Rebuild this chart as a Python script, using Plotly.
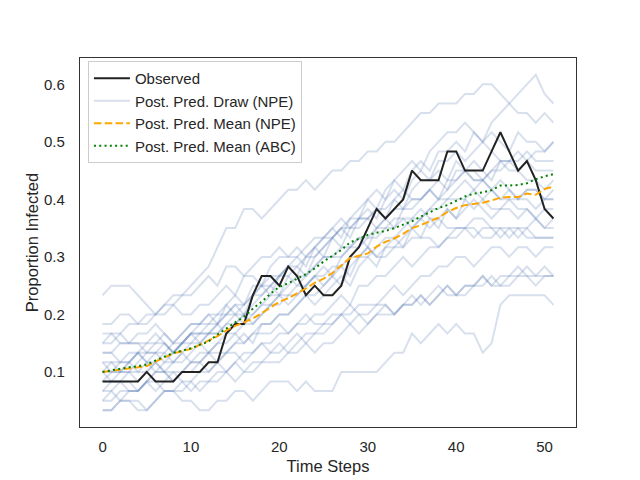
import plotly.graph_objects as go

N_POP = 60  # counts are out of 60

time_steps = list(range(52))

observed_counts = [5, 5, 5, 5, 5, 6, 5, 5, 5, 6,
                   6, 6, 7, 7, 10, 11, 11, 14, 16, 16,
                   15, 17, 16, 14, 15, 14, 14, 15, 18, 19,
                   21, 23, 22, 23, 24, 27, 26, 26, 26, 29,
                   29, 27, 27, 27, 29, 31, 29, 27, 28, 26,
                   23, 22]

draw_a = [2,2,3,3,2,2,3,4,4,3, 3,2,2,3,3,4,4,3,4,5, 5,5,4,5,4,4,4,6,6,6, 6,6,7,8,8,10,9,10,11,10, 11,10,10,8,9,13,14,14,14,14, 14,13]
draw_b = [4,5,5,4,4,5,6,6,5,6, 7,7,6,7,8,8,7,8,9,8, 8,9,10,9,10,10,11,12,11,12, 11,12,13,12,13,13,14,13,14,15, 14,14,15,15,16,15,15,16,16,15, 16,16]
draw_c = [14,15,15,15,14,13,12,12,13,14, 14,15,16,15,17,17,16,17,18,18, 19,18,18,19,20,20,21,22,21,21, 22,23,22,24,25,24,24,25,26,25, 27,27,26,26,27,28,28,27,28,29, 29,30]
draw_d = [9,9,10,11,11,12,12,13,14,14, 15,16,17,19,21,21,23,23,22,23, 24,25,25,26,25,26,27,27,28,28, 29,29,30,30,31,32,33,33,34,34, 34,35,35,36,36,35,34,33,33,32, 33,32]
draw_e = [8,8,7,7,8,9,9,10,9,10, 11,11,12,11,13,14,13,15,15,16, 16,17,18,17,19,20,21,20,22,23, 24,25,24,26,27,28,27,29,30,31, 31,32,31,30,32,33,34,35,36,37, 35,34]
draw_f = [11,11,12,12,11,11,12,13,13,12, 12,13,13,14,15,14,16,16,15,17, 18,18,19,18,19,20,20,21,21,22, 22,21,22,23,23,24,24,25,24,25, 26,27,27,26,27,27,28,28,29,28, 28,28]
draw_g = [10,10,9,9,10,10,11,10,9,10, 11,11,12,12,12,13,13,14,14,15, 16,16,15,16,17,18,18,19,19,20, 20,21,21,22,22,21,22,23,23,24, 24,24,25,24,23,23,24,24,25,25, 24,24]
draw_h = [9,10,10,9,9,9,10,9,8,9, 10,10,10,11,12,12,11,12,13,13, 14,14,14,15,16,16,17,17,18,18, 19,18,18,19,19,20,20,20,19,20, 21,21,22,22,21,21,20,21,21,22, 21,21]
draw_i = [8,8,9,9,9,8,8,8,9,9, 9,10,10,10,11,11,12,12,13,14, 14,15,16,16,17,18,18,18,19,19, 20,20,21,21,22,22,23,22,22,21, 21,21,21,20,20,21,21,21,20,20, 20,20]
draw_j = [7,7,7,8,8,7,7,6,6,6, 7,7,8,8,8,9,9,10,10,10, 11,10,11,12,11,11,12,12,13,12, 12,13,13,12,13,14,13,14,15,14, 14,15,15,16,15,15,16,16,17,16, 16,16]
draw_k = [7,6,6,7,8,7,8,9,8,9, 10,9,10,11,10,11,12,11,12,13, 14,13,14,15,16,15,16,17,16,18, 19,18,19,20,19,21,22,21,22,23, 22,23,24,23,22,23,23,22,23,22, 21,22]
draw_l = [6,6,7,7,8,8,9,9,8,9, 10,11,11,12,13,12,13,14,15,14, 16,17,16,18,18,19,20,19,21,22, 22,23,23,24,23,25,26,26,27,26, 28,27,28,27,26,28,27,27,26,26, 25,26]
draw_m = [6,7,6,6,7,8,8,7,8,9, 10,10,11,11,12,13,12,14,15,15, 16,17,17,18,19,18,20,21,22,22, 24,23,25,26,25,27,28,27,29,29, 30,29,31,30,31,30,29,31,30,30, 29,30]
draw_n = [6,5,5,6,6,7,6,7,7,8, 7,8,8,9,9,10,9,10,11,11, 12,12,13,14,13,14,15,16,15,17, 18,17,19,19,20,21,20,22,21,23, 22,24,23,24,25,24,24,23,23,22, 23,23]
draw_o = [5,5,6,6,5,6,7,6,7,7, 8,9,8,9,10,10,11,11,12,13, 13,14,15,15,16,17,16,18,19,20, 19,21,22,21,23,23,24,25,24,26, 26,27,26,26,25,26,25,24,25,25, 24,25]
draw_p = [5,6,6,7,6,6,7,8,7,8, 9,9,10,10,11,12,12,13,14,15, 14,16,17,16,18,19,20,21,20,22, 23,22,24,25,24,26,27,26,28,28, 29,28,29,30,29,28,28,29,28,27, 27,27]
draw_q = [4,4,5,5,4,5,6,6,5,6, 6,7,8,7,8,9,10,9,11,11, 12,12,13,14,14,15,16,15,17,18, 18,19,20,20,21,22,22,23,24,24, 25,26,25,26,25,24,25,24,24,23, 24,24]
draw_r = [3,4,3,4,4,5,4,5,6,5, 5,6,6,7,6,7,8,8,9,9, 10,10,11,11,12,12,13,14,13,15, 15,16,16,17,18,17,18,19,19,20, 20,21,20,21,21,20,21,20,21,20, 20,20]
draw_s = [3,3,4,4,4,5,5,4,4,5, 4,5,5,6,6,7,6,7,7,8, 9,8,9,10,10,11,11,12,12,13, 13,13,14,15,14,15,16,16,17,17, 18,18,17,18,19,19,18,19,19,18, 19,19]
draw_t = [2,2,3,3,3,2,3,4,4,4, 5,4,5,5,6,5,6,6,7,7, 7,8,8,9,8,9,9,10,11,10, 11,12,12,12,13,13,14,13,14,15, 14,15,15,16,15,16,16,17,16,16, 17,16]

draws = [draw_a, draw_b, draw_c, draw_d, draw_e, draw_f, draw_g, draw_h, draw_i, draw_j,
         draw_k, draw_l, draw_m, draw_n, draw_o, draw_p, draw_q, draw_r, draw_s, draw_t]

npe_mean = [0.100, 0.102, 0.104, 0.106, 0.108, 0.110, 0.118, 0.125, 0.132, 0.136,
            0.140, 0.147, 0.154, 0.162, 0.172, 0.180, 0.186, 0.193, 0.202, 0.212,
            0.222, 0.228, 0.236, 0.245, 0.255, 0.262, 0.272, 0.285, 0.298, 0.302,
            0.306, 0.318, 0.326, 0.332, 0.340, 0.350, 0.355, 0.362, 0.368, 0.378,
            0.385, 0.390, 0.392, 0.394, 0.398, 0.403, 0.404, 0.404, 0.410, 0.408,
            0.418, 0.422]

abc_mean = [0.100, 0.103, 0.106, 0.108, 0.110, 0.113, 0.120, 0.127, 0.133, 0.137,
            0.141, 0.147, 0.153, 0.165, 0.176, 0.186, 0.196, 0.210, 0.222, 0.236,
            0.248, 0.254, 0.262, 0.270, 0.280, 0.292, 0.302, 0.312, 0.325, 0.332,
            0.338, 0.342, 0.345, 0.350, 0.356, 0.362, 0.370, 0.378, 0.385, 0.390,
            0.398, 0.405, 0.410, 0.412, 0.416, 0.424, 0.424, 0.425, 0.428, 0.435,
            0.440, 0.444]

y_ticks = [0.1, 0.2, 0.3, 0.4, 0.5, 0.6]
x_ticks = [0, 10, 20, 30, 40, 50]

FONT = "Liberation Sans, Arial, sans-serif"
TXT = "#262626"

fig = go.Figure()

for i, d in enumerate(draws):
    fig.add_trace(go.Scatter(
        x=time_steps[:len(d)], y=[c / N_POP for c in d], mode="lines",
        line=dict(color="rgba(76,114,176,0.22)", width=2),
        name="Post. Pred. Draw (NPE)", legendgroup="draw",
        showlegend=(i == 0), legendrank=2, hoverinfo="skip"))

fig.add_trace(go.Scatter(
    x=time_steps, y=[c / N_POP for c in observed_counts], mode="lines",
    line=dict(color="#222222", width=2), name="Observed", legendrank=1))

fig.add_trace(go.Scatter(
    x=time_steps, y=npe_mean, mode="lines",
    line=dict(color="#FFA500", width=2, dash="7.5px,3.3px"),
    name="Post. Pred. Mean (NPE)", legendrank=3))

fig.add_trace(go.Scatter(
    x=time_steps, y=abc_mean, mode="lines",
    line=dict(color="#008000", width=2, dash="2px,3.3px"),
    name="Post. Pred. Mean (ABC)", legendrank=4))

fig.update_layout(
    width=632, height=472,
    margin=dict(l=72, r=64, t=50, b=53),
    paper_bgcolor="white", plot_bgcolor="white",
    font=dict(family=FONT, color=TXT, size=15),
    legend=dict(x=0.016, y=0.992, xanchor="left", yanchor="top",
                bgcolor="rgba(255,255,255,0.85)", bordercolor="#cccccc", borderwidth=1,
                font=dict(size=15, family=FONT, color=TXT),
                tracegroupgap=0, itemwidth=36),
    showlegend=True,
)
fig.update_xaxes(
    range=[-2.55, 53.55], tickvals=x_ticks, ticktext=[str(v) for v in x_ticks],
    showgrid=False, zeroline=False, showline=True, linecolor="#333333", linewidth=1.3,
    mirror=True, ticks="", ticklabelstandoff=6, automargin=False,
    tickfont=dict(size=15, family=FONT, color=TXT),
    title=dict(text="Time Steps", font=dict(size=16.5, family=FONT, color=TXT), standoff=6))
fig.update_yaxes(
    range=[0.0042, 0.6458], tickvals=y_ticks, ticktext=[f"{v:.1f}" for v in y_ticks],
    showgrid=False, zeroline=False, showline=True, linecolor="#333333", linewidth=1.3,
    mirror=True, ticks="", ticklabelstandoff=11, automargin=False,
    tickfont=dict(size=15, family=FONT, color=TXT),
    title=dict(text="Proportion Infected", font=dict(size=16.5, family=FONT, color=TXT), standoff=1))

fig.write_html("out.html")
